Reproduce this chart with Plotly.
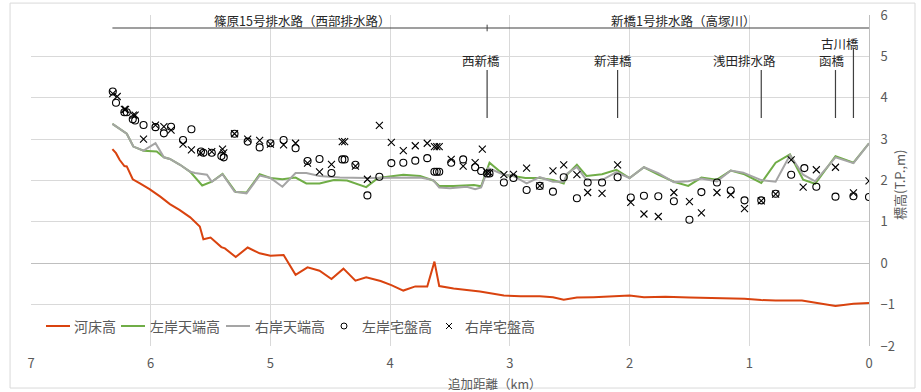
import plotly.graph_objects as go

# ---------------- data ----------------
bed_km = [6.32, 6.29, 6.26, 6.22, 6.20, 6.15, 6.09, 6.01, 5.92, 5.84, 5.76, 5.67, 5.59, 5.56, 5.50,
          5.41, 5.38, 5.29, 5.19, 5.09, 5.00, 4.89, 4.79, 4.69, 4.59, 4.49, 4.39, 4.29, 4.20, 4.08,
          3.99, 3.89, 3.79, 3.69, 3.63, 3.59, 3.47, 3.36, 3.25, 3.05, 2.91, 2.75, 2.64, 2.55, 2.44,
          2.30, 2.10, 2.00, 1.88, 1.70, 1.50, 1.27, 1.04, 0.90, 0.78, 0.56, 0.44, 0.28, 0.13, 0.00]
bed_el = [2.76, 2.66, 2.50, 2.35, 2.34, 2.03, 1.93, 1.79, 1.61, 1.43, 1.29, 1.11, 0.89, 0.58, 0.62,
          0.39, 0.36, 0.15, 0.38, 0.24, 0.18, 0.20, -0.28, -0.10, -0.18, -0.38, -0.13, -0.42, -0.34, -0.43,
          -0.53, -0.66, -0.56, -0.56, 0.04, -0.55, -0.61, -0.64, -0.68, -0.78, -0.80, -0.80, -0.82, -0.88, -0.83,
          -0.82, -0.80, -0.78, -0.82, -0.81, -0.83, -0.84, -0.86, -0.89, -0.90, -0.90, -0.95, -1.03, -0.98, -0.96]

left_top_km = [6.32, 6.20, 6.145, 6.06, 5.95, 5.89, 5.84, 5.755, 5.67, 5.57, 5.49, 5.40, 5.29, 5.20,
               5.09, 5.00, 4.90, 4.79, 4.70, 4.59, 4.47, 4.36, 4.20, 4.10, 3.89, 3.75, 3.64, 3.59,
               3.47, 3.30, 3.24, 3.17, 3.05, 2.97, 2.87, 2.75, 2.64, 2.55, 2.52, 2.44, 2.36, 2.23,
               2.11, 2.00, 1.88, 1.76, 1.63, 1.51, 1.40, 1.27, 1.155, 1.04, 0.90, 0.78, 0.66, 0.55,
               0.45, 0.28, 0.13, 0.00]
left_top_el = [3.37, 3.13, 2.82, 2.72, 2.70, 2.56, 2.52, 2.38, 2.21, 1.88, 1.97, 2.16, 1.72, 1.71,
               2.15, 2.06, 2.03, 2.07, 1.93, 1.93, 2.01, 2.00, 1.84, 2.06, 2.14, 2.11, 2.00, 1.87,
               1.87, 1.89, 1.86, 2.43, 2.14, 2.11, 2.06, 2.06, 2.01, 1.93, 2.15, 2.38, 2.11, 2.15,
               2.26, 2.06, 2.32, 2.14, 1.97, 1.87, 2.07, 2.02, 2.24, 2.15, 1.94, 2.43, 2.63, 2.02,
               1.92, 2.59, 2.43, 2.90]

right_top_km = [6.32, 6.20, 6.145, 6.06, 5.96, 5.89, 5.84, 5.755, 5.67, 5.63, 5.53, 5.49, 5.40, 5.30,
                5.20, 5.09, 5.00, 4.90, 4.79, 4.70, 4.59, 4.42, 4.20, 4.00, 3.75, 3.64, 3.59, 3.50,
                3.36, 3.29, 3.24, 3.18, 3.05, 2.97, 2.86, 2.75, 2.64, 2.55, 2.52, 2.44, 2.36, 2.23,
                2.11, 2.00, 1.88, 1.76, 1.63, 1.51, 1.40, 1.27, 1.155, 1.05, 0.90, 0.78, 0.66, 0.55,
                0.45, 0.28, 0.13, 0.00]
right_top_el = [3.37, 3.13, 2.82, 2.72, 2.90, 2.56, 2.52, 2.38, 2.21, 2.18, 2.14, 1.97, 2.15, 1.73,
                1.69, 2.12, 2.06, 1.85, 2.18, 2.18, 2.11, 2.07, 2.06, 2.07, 2.07, 2.01, 1.83, 1.81,
                1.85, 1.79, 1.83, 2.30, 2.14, 2.11, 1.93, 2.08, 1.97, 1.97, 2.17, 2.33, 2.01, 2.01,
                2.20, 2.06, 2.32, 2.18, 1.96, 1.98, 2.05, 1.98, 2.24, 2.19, 2.01, 1.97, 2.61, 2.14,
                1.98, 2.56, 2.42, 2.90]

left_house_km = [6.317, 6.29, 6.22, 6.20, 6.15, 6.13, 6.06, 5.96, 5.89, 5.83, 5.73, 5.66, 5.58, 5.56,
                 5.49, 5.41, 5.39, 5.30, 5.19, 5.09, 5.00, 4.89, 4.79, 4.69, 4.59, 4.49, 4.40, 4.38,
                 4.29, 4.19, 4.09, 3.99, 3.89, 3.79, 3.69, 3.63, 3.61, 3.59, 3.49, 3.39, 3.29, 3.24,
                 3.19, 3.17, 3.05, 2.97, 2.86, 2.75, 2.64, 2.55, 2.44, 2.35, 2.23, 2.10, 1.99, 1.88,
                 1.76, 1.63, 1.50, 1.40, 1.27, 1.155, 1.04, 0.90, 0.78, 0.65, 0.54, 0.44, 0.28, 0.13,
                 0.00]
left_house_el = [4.15, 3.88, 3.65, 3.65, 3.48, 3.45, 3.34, 3.29, 3.14, 3.30, 2.98, 3.24, 2.70, 2.67,
                 2.67, 2.59, 2.56, 3.13, 2.94, 2.80, 2.90, 2.98, 2.78, 2.47, 2.52, 2.18, 2.51, 2.51,
                 2.38, 1.64, 2.09, 2.42, 2.43, 2.48, 2.54, 2.21, 2.21, 2.21, 2.43, 2.51, 2.32, 2.23,
                 2.17, 2.17, 1.95, 2.06, 1.77, 1.87, 1.73, 2.08, 1.57, 1.95, 1.95, 2.08, 1.59, 1.63,
                 1.62, 1.50, 1.05, 1.72, 1.95, 1.76, 1.52, 1.52, 1.68, 2.14, 2.30, 1.85, 1.61, 1.62,
                 1.60]

right_house_km = [6.317, 6.28, 6.22, 6.21, 6.145, 6.13, 6.06, 5.96, 5.89, 5.83, 5.73, 5.66, 5.58, 5.49,
                  5.40, 5.39, 5.30, 5.19, 5.09, 5.00, 4.89, 4.79, 4.69, 4.59, 4.49, 4.40, 4.38, 4.29,
                  4.19, 4.09, 3.99, 3.89, 3.79, 3.69, 3.63, 3.61, 3.59, 3.49, 3.39, 3.29, 3.23, 3.19,
                  3.17, 3.05, 2.97, 2.86, 2.75, 2.64, 2.55, 2.44, 2.35, 2.23, 2.10, 1.99, 1.88, 1.76,
                  1.63, 1.50, 1.40, 1.27, 1.155, 1.04, 0.90, 0.78, 0.65, 0.55, 0.44, 0.28, 0.13, 0.00]
right_house_el = [4.10, 4.03, 3.72, 3.72, 3.58, 3.58, 3.00, 3.34, 3.30, 3.22, 2.88, 2.74, 2.67, 2.70,
                  2.76, 2.67, 3.13, 3.00, 2.97, 2.88, 2.86, 2.90, 2.42, 2.21, 2.39, 2.94, 2.94, 2.35,
                  2.03, 3.33, 2.92, 2.72, 2.84, 2.90, 2.82, 2.82, 2.82, 2.51, 2.35, 2.43, 2.76, 2.19,
                  2.19, 2.14, 2.15, 2.30, 1.87, 2.23, 2.38, 2.14, 1.71, 1.69, 2.38, 1.47, 1.19, 1.13,
                  1.71, 1.49, 1.22, 1.71, 1.66, 1.32, 1.51, 1.67, 2.50, 1.84, 2.26, 2.32, 1.70, 1.99]

series_names = ["河床高", "左岸天端高", "右岸天端高", "左岸宅盤高", "右岸宅盤高"]

x_ticks = [7, 6, 5, 4, 3, 2, 1, 0]
y_ticks = [-2, -1, 0, 1, 2, 3, 4, 5, 6]

section_names = ["篠原15号排水路（西部排水路）", "新橋1号排水路（高塚川）"]
landmark_names = ["西新橋", "新津橋", "浅田排水路", "函橋", "古川橋"]

# ---------------- decoration positions ----------------
section_text_km = [4.74, 1.55]
section_text_y = 5.86
section_line_y = 5.686
section_line_span = (6.32, 0.0)
section_divider_km = 3.19
landmark_line_km = [3.19, 2.10, 0.90, 0.28, 0.13]
landmark_text_km = [3.24, 2.14, 1.04, 0.31, 0.24]
landmark_text_y = [4.91, 4.91, 4.91, 4.91, 5.32]
landmark_line_top = [4.67, 4.67, 4.67, 4.67, 5.18]
landmark_line_bottom = 3.51

FONT = "Noto Sans CJK JP"
TXT = "#595959"
GRID = "#D9D9D9"
COLORS = ["#D9430F", "#70AD47", "#A5A5A5", "#000000", "#000000"]

# plot area in pixels (for legend placement in paper units)
PL, PR, PT, PB = 31, 869, 15, 346
def px_x(px):
    return (px - PL) / (PR - PL)
def px_y(py):
    return (PB - py) / (PB - PT)

fig = go.Figure()
fig.add_trace(go.Scatter(x=bed_km, y=bed_el, name=series_names[0], mode="lines",
                         line=dict(color=COLORS[0], width=2)))
fig.add_trace(go.Scatter(x=left_top_km, y=left_top_el, name=series_names[1], mode="lines",
                         line=dict(color=COLORS[1], width=2)))
fig.add_trace(go.Scatter(x=right_top_km, y=right_top_el, name=series_names[2], mode="lines",
                         line=dict(color=COLORS[2], width=2)))
circle_marker = dict(symbol="circle-open", size=7, color="#000000", line=dict(width=1.1, color="#000000"))
x_marker = dict(symbol="x-thin-open", size=7, color="#000000", line=dict(width=1.1, color="#000000"))
fig.add_trace(go.Scatter(x=left_house_km, y=left_house_el, name=series_names[3], mode="markers",
                         marker=circle_marker))
fig.add_trace(go.Scatter(x=right_house_km, y=right_house_el, name=series_names[4], mode="markers",
                         marker=x_marker))

shapes = []
annotations = []
# chart border
shapes.append(dict(type="rect", xref="paper", yref="paper", x0=-0.025, x1=1.0549, y0=-0.127, y1=1.036,
                   line=dict(color="#D9D9D9", width=1), layer="below"))
# section line and labels
shapes.append(dict(type="line", xref="x", yref="y", x0=section_line_span[0], x1=section_line_span[1],
                   y0=section_line_y, y1=section_line_y, line=dict(color="#404040", width=1.2)))
shapes.append(dict(type="line", xref="x", yref="y", x0=section_divider_km, x1=section_divider_km,
                   y0=section_line_y - 0.08, y1=section_line_y + 0.08, line=dict(color="#404040", width=1)))
for name, xk in zip(section_names, section_text_km):
    annotations.append(dict(x=xk, y=section_text_y, xref="x", yref="y", text=name, showarrow=False,
                            font=dict(family=FONT, size=12.5, color="#262626"), yanchor="middle"))
for name, lk, tk, ty, top in zip(landmark_names, landmark_line_km, landmark_text_km,
                                 landmark_text_y, landmark_line_top):
    shapes.append(dict(type="line", xref="x", yref="y", x0=lk, x1=lk, y0=top, y1=landmark_line_bottom,
                       line=dict(color="#404040", width=1.2)))
    annotations.append(dict(x=tk, y=ty, xref="x", yref="y", text=name, showarrow=False,
                            font=dict(family=FONT, size=12.5, color="#262626"), yanchor="middle"))

# axis titles
annotations.append(dict(x=px_x(494), y=px_y(383), xref="paper", yref="paper", text="追加距離（km）",
                        showarrow=False, font=dict(family=FONT, size=12.5, color=TXT), yanchor="middle"))
annotations.append(dict(x=px_x(900), y=px_y(185), xref="paper", yref="paper", text="標高(T.P.,m)",
                        textangle=-90, showarrow=False, font=dict(family=FONT, size=13, color=TXT),
                        xanchor="center", yanchor="middle"))

# custom legend (inside the plot, bottom-left)
leg_y = px_y(326)
line_items = [(46, 70, 72), (121, 145, 148), (226, 250, 253)]
for i, (a, b, t) in enumerate(line_items):
    shapes.append(dict(type="line", xref="paper", yref="paper", x0=px_x(a), x1=px_x(b), y0=leg_y, y1=leg_y,
                       line=dict(color=COLORS[i], width=2)))
    annotations.append(dict(x=px_x(t), y=leg_y, xref="paper", yref="paper", text=series_names[i],
                            showarrow=False, xanchor="left", yanchor="middle",
                            font=dict(family=FONT, size=14, color=TXT)))
marker_items = [(344, 360), (449, 463)]
for j, (m, t) in enumerate(marker_items):
    annotations.append(dict(x=px_x(t), y=leg_y, xref="paper", yref="paper", text=series_names[3 + j],
                            showarrow=False, xanchor="left", yanchor="middle",
                            font=dict(family=FONT, size=14, color=TXT)))
fig.add_trace(go.Scatter(x=[px_x(marker_items[0][0])], y=[leg_y], xaxis="x2", yaxis="y2", mode="markers",
                         marker=dict(symbol="circle-open", size=6, color="#000000",
                                     line=dict(width=1, color="#000000")),
                         showlegend=False, hoverinfo="skip"))
fig.add_trace(go.Scatter(x=[px_x(marker_items[1][0])], y=[leg_y], xaxis="x2", yaxis="y2", mode="markers",
                         marker=dict(symbol="x-thin-open", size=6, color="#000000",
                                     line=dict(width=1, color="#000000")),
                         showlegend=False, hoverinfo="skip"))

fig.update_layout(
    width=921, height=392,
    margin=dict(l=PL, r=921 - PR, t=PT, b=392 - PB, autoexpand=False),
    paper_bgcolor="white", plot_bgcolor="white",
    font=dict(family=FONT, size=13, color=TXT),
    showlegend=False,
    xaxis=dict(range=[7, 0], tickmode="array", tickvals=x_ticks, showgrid=True, gridcolor=GRID,
               gridwidth=1, zeroline=False, showline=False, ticks="", ticklabelstandoff=8,
               automargin=False, tickfont=dict(family=FONT, size=13, color=TXT)),
    yaxis=dict(range=[-2, 6], side="right", tickmode="array", tickvals=y_ticks, showgrid=True,
               gridcolor=GRID, gridwidth=1, zeroline=True, zerolinecolor="#BFBFBF", zerolinewidth=1,
               showline=True, linecolor="#BFBFBF", linewidth=1, ticks="", ticklabelstandoff=8,
               automargin=False, tickfont=dict(family=FONT, size=13, color=TXT)),
    xaxis2=dict(range=[0, 1], overlaying="x", visible=False, fixedrange=True),
    yaxis2=dict(range=[0, 1], overlaying="y", visible=False, fixedrange=True),
    shapes=shapes, annotations=annotations,
)

fig.write_html("out.html", config={"displayModeBar": False},
               post_script="document.body.style.margin='0';")
